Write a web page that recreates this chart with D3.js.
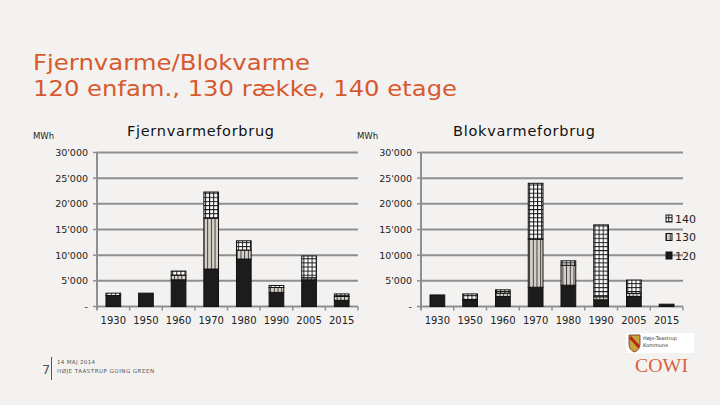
<!DOCTYPE html>
<html><head><meta charset="utf-8">
<script src="https://cdn.jsdelivr.net/npm/d3@7"></script>
<style>
html,body{margin:0;padding:0;background:#f4f2f0;}
svg{display:block;}
text{font-family:"DejaVu Sans",Verdana,sans-serif;}
</style></head>
<body>
<svg id="c" width="720" height="405"></svg>
<script>
const years = ["1930","1950","1960","1970","1980","1990","2005","2015"];
const seriesKeys = ["120","130","140"];
const fjern120 = [2150,2600,5200,7300,9250,2750,5200,1200];
const fjern130 = [0,0,900,9900,1750,950,400,750];
const fjern140 = [450,0,800,5100,1800,400,4250,500];
const blok120 = [2250,1300,1950,3750,4150,1300,1950,450];
const blok130 = [0,100,650,9350,3900,600,600,0];
const blok140 = [0,1050,650,10900,850,14000,2600,0];
const yTicks = [0,5000,10000,15000,20000,25000,30000];
const yTickLabels = ["-","5'000","10'000","15'000","20'000","25'000","30'000"];

const svg = d3.select("#c");
svg.append("rect").attr("width",720).attr("height",405).attr("fill","#f4f2f0");

const defs = svg.append("defs");
const P = 4.1;
const p140 = defs.append("pattern").attr("id","p140").attr("patternUnits","userSpaceOnUse")
  .attr("width",P).attr("height",P);
p140.append("rect").attr("width",P).attr("height",P).attr("fill","#ffffff");
p140.append("path").attr("d",`M0,0.5H${P}M0.5,0V${P}`).attr("stroke","#1a1a1a").attr("stroke-width",1);
const p130 = defs.append("pattern").attr("id","p130").attr("patternUnits","userSpaceOnUse")
  .attr("width",3.7).attr("height",4);
p130.append("rect").attr("width",3.7).attr("height",4).attr("fill","#d5d1c8");
p130.append("path").attr("d","M0.5,0V4").attr("stroke","#2a2a2a").attr("stroke-width",0.9);
const fills = {"120":"#1c1c1c","130":"url(#p130)","140":"url(#p140)"};

// Title
const title = svg.append("text").attr("fill","#d65a2e").style("font-size","21px");
title.append("tspan").attr("x",33).attr("y",70).attr("textLength",277).attr("lengthAdjust","spacingAndGlyphs").text("Fjernvarme/Blokvarme");
const title2 = svg.append("text").attr("fill","#d65a2e").style("font-size","21px");
title2.append("tspan").attr("x",33).attr("y",96).attr("textLength",424).attr("lengthAdjust","spacingAndGlyphs").text("120 enfam., 130 række, 140 etage");

const y = d3.scaleLinear().domain([0,30000]).range([306.5,152.5]);

function drawChart(x0, x1, name, nameX, nameW, mwhX, s120, s130, s140){
  const x = d3.scaleBand().domain(years).range([x0,x1]).paddingInner(0.55).paddingOuter(0.275);
  const g = svg.append("g");
  g.selectAll("line.grid").data(yTicks).enter().append("line")
    .attr("x1",x0).attr("x2",x1).attr("y1",d=>y(d)).attr("y2",d=>y(d))
    .attr("stroke","#8f8f8f").attr("stroke-width",2);
  g.append("line").attr("x1",x0).attr("x2",x0).attr("y1",y(30000)).attr("y2",y(0)+3)
    .attr("stroke","#8f8f8f").attr("stroke-width",2);
  g.selectAll("line.yt").data(yTicks).enter().append("line")
    .attr("x1",x0-4).attr("x2",x0).attr("y1",d=>y(d)).attr("y2",d=>y(d))
    .attr("stroke","#8f8f8f").attr("stroke-width",1.5);
  g.selectAll("text.yl").data(yTicks).enter().append("text")
    .attr("x",x0-9).attr("y",d=>y(d)+3.5).attr("text-anchor","end")
    .style("font-size","9.5px").attr("fill","#222")
    .text((d,i)=>yTickLabels[i]);
  const edges = years.map(d=>x(d)+x.bandwidth()/2 - x.step()/2).concat([x(years[years.length-1])+x.bandwidth()/2+x.step()/2]);
  g.selectAll("line.xt").data(edges).enter().append("line")
    .attr("x1",d=>d).attr("x2",d=>d).attr("y1",y(0)).attr("y2",y(0)+4)
    .attr("stroke","#8f8f8f").attr("stroke-width",1.5);
  g.selectAll("text.xl").data(years).enter().append("text")
    .attr("x",d=>x(d)+x.bandwidth()/2).attr("y",324).attr("text-anchor","middle")
    .style("font-size","10px").attr("fill","#222").text(d=>d);
  const rows = years.map((yr,i)=>({year:yr,"120":s120[i],"130":s130[i],"140":s140[i]}));
  const stack = d3.stack().keys(seriesKeys)(rows);
  stack.forEach(layer=>{
    g.selectAll(null).data(layer.filter(d=>d[1]-d[0]>0)).enter().append("rect")
      .attr("x",d=>x(d.data.year)).attr("width",x.bandwidth())
      .attr("y",d=>y(d[1])).attr("height",d=>y(d[0])-y(d[1]))
      .attr("fill",fills[layer.key]).attr("stroke","#111").attr("stroke-width",1);
  });
  svg.append("text").attr("x",nameX).attr("y",136).style("font-size","14.5px").attr("fill","#111")
    .attr("textLength",nameW).attr("lengthAdjust","spacing").text(name);
  svg.append("text").attr("x",mwhX).attr("y",139).style("font-size","8.5px").attr("fill","#222").text("MWh");
}
drawChart(97,358,"Fjernvarmeforbrug",127,147,33,fjern120,fjern130,fjern140);
drawChart(421,683,"Blokvarmeforbrug",453,142,357,blok120,blok130,blok140);

// legend
const legendOrder = ["140","130","120"];
const lg = svg.append("g");
legendOrder.forEach((k,i)=>{
  const ly = 215 + i*18.5;
  lg.append("rect").attr("x",666).attr("y",ly).attr("width",6).attr("height",7)
    .attr("fill",fills[k]).attr("stroke","#111").attr("stroke-width",1);
  lg.append("text").attr("x",675).attr("y",ly+7.5).style("font-size","11px").attr("fill","#222").text(k);
});

// footer
svg.append("text").attr("x",42).attr("y",374).style("font-size","13px").attr("fill","#555").text("7");
svg.append("line").attr("x1",51.5).attr("x2",51.5).attr("y1",357).attr("y2",380).attr("stroke","#555").attr("stroke-width",1);
svg.append("text").attr("x",57).attr("y",364).style("font-size","5.5px").attr("fill","#555")
  .attr("textLength",38).attr("lengthAdjust","spacing").text("14 MAJ 2014");
svg.append("text").attr("x",57).attr("y",373).style("font-size","5.5px").attr("fill","#555")
  .attr("textLength",97).attr("lengthAdjust","spacing").text("HØJE TAASTRUP GOING GREEN");
// logo
svg.append("rect").attr("x",626).attr("y",333).attr("width",68).attr("height",20).attr("fill","#ffffff");
svg.append("path").attr("d","M629,335H640V344Q640,350 634.5,352Q629,350 629,344Z").attr("fill","#c8a43a").attr("stroke","#7a2a1a").attr("stroke-width",0.8);
svg.append("path").attr("d","M630,337L639,347").attr("stroke","#b0281e").attr("stroke-width",3);
svg.append("text").attr("x",643).attr("y",340).style("font-size","5px").attr("fill","#333").text("Høje-Taastrup");
svg.append("text").attr("x",643).attr("y",347).style("font-size","5px").attr("fill","#333").text("Kommune");
svg.append("text").attr("x",635).attr("y",372).style("font-family","'Liberation Serif',serif").style("font-size","19px")
  .attr("fill","#d8613d").attr("textLength",53).attr("lengthAdjust","spacingAndGlyphs").text("COWI");
</script>
</body></html>
